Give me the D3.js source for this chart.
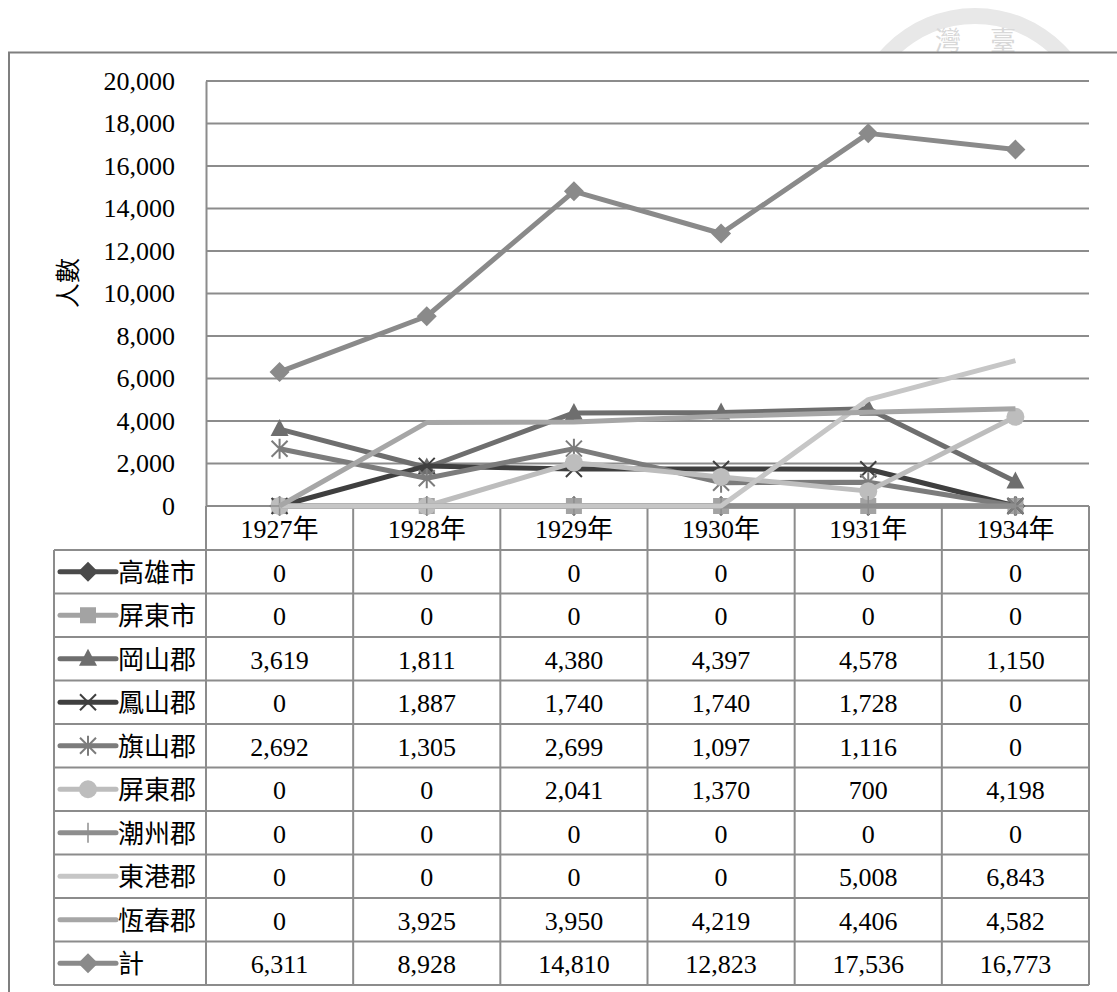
<!DOCTYPE html>
<html><head><meta charset="utf-8">
<script src="https://cdn.jsdelivr.net/npm/d3@7"></script>
<style>
html,body{margin:0;padding:0;background:#fff;}
svg{display:block;}
text{font-family:"Liberation Serif","Times New Roman","Noto Sans CJK TC",serif;fill:#000;}
</style></head>
<body>
<script>
const years = ["1927年","1928年","1929年","1930年","1931年","1934年"];
const seriesNames = ["高雄市","屏東市","岡山郡","鳳山郡","旗山郡","屏東郡","潮州郡","東港郡","恆春郡","計"];
const kaohsiungCity = [0,0,0,0,0,0];
const pingtungCity  = [0,0,0,0,0,0];
const okayamaGun    = [3619,1811,4380,4397,4578,1150];
const fengshanGun   = [0,1887,1740,1740,1728,0];
const qishanGun     = [2692,1305,2699,1097,1116,0];
const pingtungGun   = [0,0,2041,1370,700,4198];
const chaozhouGun   = [0,0,0,0,0,0];
const donggangGun   = [0,0,0,0,5008,6843];
const hengchunGun   = [0,3925,3950,4219,4406,4582];
const totalValues   = [6311,8928,14810,12823,17536,16773];
const yTicks = [0,2000,4000,6000,8000,10000,12000,14000,16000,18000,20000];
const yTitle = "人數";

const seriesValues = [kaohsiungCity,pingtungCity,okayamaGun,fengshanGun,qishanGun,pingtungGun,chaozhouGun,donggangGun,hengchunGun,totalValues];
const seriesColors = ["#4a4a4a","#a3a3a3","#6e6e6e","#3f3f3f","#7c7c7c","#bdbdbd","#8e8e8e","#c6c6c6","#a6a6a6","#8a8a8a"];
const seriesMarkers = ["diamond","square","triangle","x","star","circle","plus","none","none","diamond"];

const W = 1117, H = 992;
const svg = d3.select("body").append("svg").attr("width",W).attr("height",H);

// watermark
const wm = svg.append("g");
wm.append("clipPath").attr("id","wmclip").append("rect").attr("x",0).attr("y",0).attr("width",W).attr("height",52);
const wmg = wm.append("g").attr("clip-path","url(#wmclip)");
wmg.append("path")
  .attr("d", d3.arc().innerRadius(110).outerRadius(126).startAngle(-Math.PI/2).endAngle(Math.PI/2)())
  .attr("transform","translate(975,134)")
  .attr("fill","#e8e8e8");
wmg.append("text").attr("x",948).attr("y",50).attr("font-size",26).attr("text-anchor","middle").style("fill","#d8d8d8").text("灣");
wmg.append("text").attr("x",1003).attr("y",50).attr("font-size",26).attr("text-anchor","middle").style("fill","#d8d8d8").text("臺");

// outer frame
svg.append("path").attr("d","M9,993 V52.5 H1120").attr("fill","none").attr("stroke","#7f7f7f").attr("stroke-width",2);

const plotL = 206, plotR = 1089, plotT = 81, plotB = 506;
const x = d3.scaleBand().domain(years).range([plotL,plotR]);
const y = d3.scaleLinear().domain([0,20000]).range([plotB,plotT]);
const cx = d => x(d) + x.bandwidth()/2;

// gridlines
svg.append("g").selectAll("line").data(yTicks.filter(t=>t>0)).join("line")
  .attr("x1",plotL).attr("x2",plotR).attr("y1",d=>y(d)).attr("y2",d=>y(d))
  .attr("stroke","#8c8c8c").attr("stroke-width",2);

// y axis
const yAxis = svg.append("g").attr("transform",`translate(${plotL},0)`)
  .call(d3.axisLeft(y).tickValues(yTicks).tickFormat(d3.format(",")).tickSize(0).tickPadding(31));
yAxis.select(".domain").attr("stroke","#8c8c8c").attr("stroke-width",2);
yAxis.selectAll("text").attr("font-size",26).style("font-family",'"Liberation Serif",serif').attr("dy","0.32em");

svg.append("text").attr("transform","translate(77,283) rotate(-90)").attr("text-anchor","middle")
  .attr("font-size",25).style("font-family",'"Noto Sans CJK TC",sans-serif').text(yTitle);

// table
const tblL = 54, rowH = 43.5, hdrB = 550;
const colEdges = years.map(d=>x(d)).concat([plotR]);
const tg = svg.append("g");
const stroke = "#8c8c8c";
// vertical lines
tg.selectAll("line.v").data(colEdges).join("line").attr("class","v")
  .attr("x1",d=>d).attr("x2",d=>d).attr("y1",plotB).attr("y2",hdrB+rowH*10)
  .attr("stroke",stroke).attr("stroke-width",2);
tg.append("line").attr("x1",tblL).attr("x2",tblL).attr("y1",hdrB).attr("y2",hdrB+rowH*10).attr("stroke",stroke).attr("stroke-width",2);
// horizontal lines
tg.selectAll("line.h").data(d3.range(11)).join("line").attr("class","h")
  .attr("x1",tblL).attr("x2",plotR).attr("y1",i=>hdrB+i*rowH).attr("y2",i=>hdrB+i*rowH)
  .attr("stroke",stroke).attr("stroke-width",2);
tg.append("line").attr("x1",plotL).attr("x2",plotR).attr("y1",plotB).attr("y2",plotB).attr("stroke",stroke).attr("stroke-width",2);

// header labels
tg.selectAll("text.hdr").data(years).join("text").attr("class","hdr")
  .attr("x",d=>cx(d)).attr("y",(plotB+hdrB)/2+1).attr("dy","0.35em").attr("text-anchor","middle")
  .attr("font-size",26).text(d=>d);

// marker drawing
function drawMarker(g, type, color, px, py, big){
  const s = big ? 1 : 1;
  if(type==="diamond"){
    g.append("path").attr("d",`M${px},${py-10}L${px+10},${py}L${px},${py+10}L${px-10},${py}Z`).attr("fill",color);
  } else if(type==="square"){
    g.append("rect").attr("x",px-8).attr("y",py-8).attr("width",16).attr("height",16).attr("fill",color);
  } else if(type==="triangle"){
    g.append("path").attr("d",`M${px},${py-10}L${px+9},${py+7}L${px-9},${py+7}Z`).attr("fill",color);
  } else if(type==="x"){
    g.append("path").attr("d",`M${px-8},${py-8}L${px+8},${py+8}M${px-8},${py+8}L${px+8},${py-8}`).attr("stroke",color).attr("stroke-width",2);
  } else if(type==="star"){
    g.append("path").attr("d",`M${px-8},${py-8}L${px+8},${py+8}M${px-8},${py+8}L${px+8},${py-8}M${px},${py-10}L${px},${py+10}`).attr("stroke",color).attr("stroke-width",2);
  } else if(type==="circle"){
    g.append("circle").attr("cx",px).attr("cy",py).attr("r",9).attr("fill",color);
  } else if(type==="plus"){
    g.append("path").attr("d",`M${px},${py-10}L${px},${py+10}M${px-9},${py}L${px+9},${py}`).attr("stroke",color).attr("stroke-width",1.5);
  }
}

// rows
seriesNames.forEach((name,i)=>{
  const ry = hdrB + i*rowH + rowH/2;
  const g = tg.append("g");
  g.append("line").attr("x1",60).attr("x2",116).attr("y1",ry).attr("y2",ry)
    .attr("stroke",seriesColors[i]).attr("stroke-width",5).attr("stroke-linecap","round");
  drawMarker(g, seriesMarkers[i], seriesColors[i], 88, ry);
  g.append("text").attr("x",118).attr("y",ry+1).attr("dy","0.35em").attr("font-size",26)
    .style("font-family",'"Noto Sans CJK TC",sans-serif').text(name);
  g.selectAll("text.val").data(seriesValues[i]).join("text").attr("class","val")
    .attr("x",(d,j)=>cx(years[j])).attr("y",ry+1).attr("dy","0.35em").attr("text-anchor","middle")
    .attr("font-size",26).text(d=>d3.format(",")(d));
});

// lines
const line = d3.line().x((d,j)=>cx(years[j])).y(d=>y(d));
seriesNames.forEach((name,i)=>{
  const g = svg.append("g");
  g.append("path").datum(seriesValues[i]).attr("d",line).attr("fill","none")
    .attr("stroke",seriesColors[i]).attr("stroke-width",5).attr("stroke-linejoin","round");
  seriesValues[i].forEach((v,j)=>drawMarker(g, seriesMarkers[i], seriesColors[i], cx(years[j]), y(v)));
});
</script>
</body></html>
